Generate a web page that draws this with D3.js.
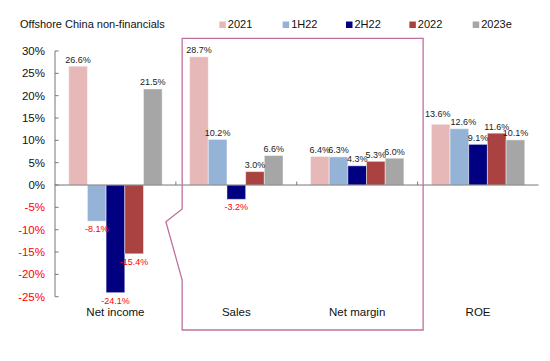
<!DOCTYPE html>
<html>
<head>
<meta charset="utf-8">
<script src="https://cdn.jsdelivr.net/npm/d3@7"></script>
<style>
  body { margin: 0; background: #fff; }
  text { font-family: "Liberation Sans", Arial, sans-serif; }
</style>
</head>
<body>
<svg id="chart" width="550" height="361"></svg>
<script>
const categories = ['Net income', 'Sales', 'Net margin', 'ROE']
const seriesNames = ['2021', '1H22', '2H22', '2022', '2023e']
const seriesColors = ['#e6b8b7', '#95b3d7', '#000080', '#a94240', '#a6a6a6']

const v2021 = [26.6, 28.7, 6.4, 13.6]
const v1H22 = [-8.1, 10.2, 6.3, 12.6]
const v2H22 = [-24.1, -3.2, 4.3, 9.1]
const v2022 = [-15.4, 3.0, 5.3, 11.6]
const v2023e = [21.5, 6.6, 6.0, 10.1]

const yTicks = [30, 25, 20, 15, 10, 5, 0, -5, -10, -15, -20, -25]

const seriesValues = [v2021, v1H22, v2H22, v2022, v2023e]

const svg = d3.select('#chart')

let y = d3.scaleLinear().domain([-25, 30]).range([296.7, 51])
let x = d3.scaleBand().domain(categories).range([55, 538.5]).paddingInner(0).paddingOuter(0)
let xs = d3.scaleBand().domain(seriesNames).range([0, x.bandwidth()]).paddingInner(0).paddingOuter(0.735)

const rows = []
categories.forEach((c, i) => {
    seriesNames.forEach((s, j) => {
        rows.push({cat: c, series: s, value: seriesValues[j][i], color: seriesColors[j]})
    })
})

// the ROE labels get pushed apart a bit in the original, like excel does
const labelNudge = {
    'ROE|2021': [-3, -3.5],
    'ROE|1H22': [4, 0]
}

const fmt = v => d3.format('.1f')(v).replace('\u2212', '-') + '%'

// title
svg.append('text')
    .attr('x', 20).attr('y', 27.5)
    .attr('font-size', 11).attr('fill', '#111')
    .text('Offshore China non-financials')

// legend
const legend = svg.append('g')
    .selectAll('g')
    .data(seriesNames)
    .enter()
    .append('g')
    .attr('transform', (d, i) => `translate(${219.3 + i * 63.35},0)`)

legend.append('rect')
    .attr('x', 0).attr('y', 21.5)
    .attr('width', 6.5).attr('height', 6.5)
    .attr('fill', (d, i) => seriesColors[i])

legend.append('text')
    .attr('x', 8.5).attr('y', 28.3)
    .attr('font-size', 11).attr('fill', '#111')
    .text(d => d)

// bars
const bars = svg.append('g')
bars.selectAll('rect')
    .data(rows)
    .enter()
    .append('rect')
    .attr('x', d => x(d.cat) + xs(d.series))
    .attr('width', xs.bandwidth())
    .attr('y', d => y(Math.max(0, d.value)))
    .attr('height', d => Math.abs(y(d.value) - y(0)))
    .attr('fill', d => d.color)
    .attr('stroke', 'rgba(255,255,255,0.45)')
    .attr('stroke-width', 1)

// value labels
svg.append('g')
    .selectAll('text')
    .data(rows)
    .enter()
    .append('text')
    .attr('x', d => {
        let n = labelNudge[d.cat + '|' + d.series] || [0, 0]
        return x(d.cat) + xs(d.series) + xs.bandwidth() / 2 + n[0]
    })
    .attr('y', d => {
        let n = labelNudge[d.cat + '|' + d.series] || [0, 0]
        return (d.value >= 0 ? y(d.value) - 3.5 : y(d.value) + 11) + n[1]
    })
    .attr('text-anchor', 'middle')
    .attr('font-size', 9)
    .attr('fill', d => d.value >= 0 ? '#222' : '#ff0000')
    .text(d => fmt(d.value))

// y axis
const yAxis = svg.append('g')
yAxis.append('line')
    .attr('x1', 55).attr('x2', 55)
    .attr('y1', y(30)).attr('y2', y(-25))
    .attr('stroke', '#777').attr('stroke-width', 1)

yAxis.selectAll('line.tick')
    .data(yTicks)
    .enter()
    .append('line')
    .attr('class', 'tick')
    .attr('x1', 55).attr('x2', 58.5)
    .attr('y1', d => y(d)).attr('y2', d => y(d))
    .attr('stroke', '#777')

yAxis.selectAll('text')
    .data(yTicks)
    .enter()
    .append('text')
    .attr('x', 45).attr('y', d => y(d) + 4)
    .attr('text-anchor', 'end')
    .attr('font-size', 11.5)
    .attr('fill', d => d < 0 ? '#ff0000' : '#111')
    .text(d => d + '%')

// x axis at zero
const xAxis = svg.append('g')
xAxis.append('line')
    .attr('x1', 55).attr('x2', 538.5)
    .attr('y1', y(0)).attr('y2', y(0))
    .attr('stroke', '#777')

xAxis.selectAll('line.tick')
    .data(categories.slice(1))
    .enter()
    .append('line')
    .attr('class', 'tick')
    .attr('x1', d => x(d)).attr('x2', d => x(d))
    .attr('y1', y(0)).attr('y2', y(0) - 3.5)
    .attr('stroke', '#777')

xAxis.selectAll('text')
    .data(categories)
    .enter()
    .append('text')
    .attr('x', d => x(d) + x.bandwidth() / 2)
    .attr('y', 316)
    .attr('text-anchor', 'middle')
    .attr('font-size', 11.5)
    .attr('fill', '#111')
    .text(d => d)

// highlight frame round Sales and Net margin
const bx0 = x('Sales') + 6.3
const bx1 = x('Net margin') + x.bandwidth() + 5.5
const frame = d3.path()
frame.moveTo(bx0, 38.3)
frame.lineTo(bx1, 38.3)
frame.lineTo(bx1, 330)
frame.lineTo(bx0, 330)
frame.lineTo(bx0, 280)
frame.lineTo(bx0 - 16.3, 221.7)
frame.lineTo(bx0, 209)
frame.closePath()

svg.append('path')
    .attr('d', frame.toString())
    .attr('fill', 'none')
    .attr('stroke', '#c0709e')
    .attr('stroke-width', 1.3)
</script>
</body>
</html>
